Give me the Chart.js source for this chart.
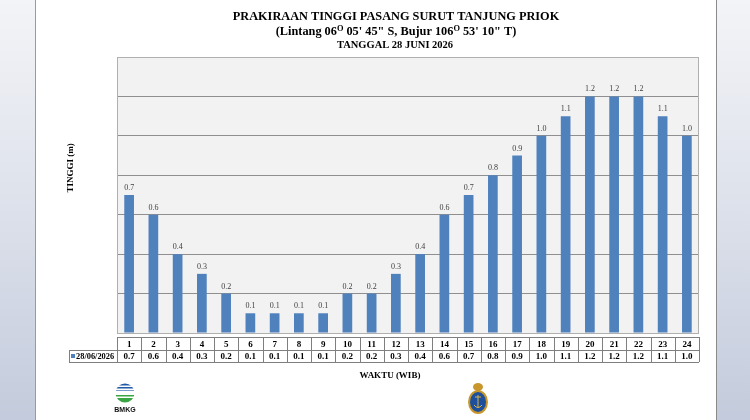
<!DOCTYPE html>
<html>
<head>
<meta charset="utf-8">
<script src="https://cdn.jsdelivr.net/npm/chart.js@4.4.1/dist/chart.umd.min.js"></script>
<style>
  html, body { margin: 0; padding: 0; }
  body {
    width: 750px; height: 420px; overflow: hidden; position: relative;
    background: linear-gradient(to bottom, #f3f4f7 0%, #dfe3ec 45%, #c3cbdc 100%);
  }
  #page {
    position: absolute; left: 35px; top: 0; width: 680px; height: 420px;
    background: #fff; border-left: 1px solid #9a9a9a; border-right: 1px solid #8a8a8a;
  }
  #wrap { position: absolute; left: 0; top: 0; width: 750px; height: 420px; }
</style>
</head>
<body>
<div id="page"></div>
<div id="wrap"><canvas id="tide" width="750" height="420"></canvas></div>
<script>
const hours = ['1','2','3','4','5','6','7','8','9','10','11','12','13','14','15','16','17','18','19','20','21','22','23','24'];
const heights = [0.7, 0.6, 0.4, 0.3, 0.2, 0.1, 0.1, 0.1, 0.1, 0.2, 0.2, 0.3, 0.4, 0.6, 0.7, 0.8, 0.9, 1.0, 1.1, 1.2, 1.2, 1.2, 1.1, 1.0];
const seriesLabel = '28/06/2026';
const yMin = 0, yMax = 1.4, yStep = 0.2;

const titleLine1 = 'PRAKIRAAN TINGGI PASANG SURUT TANJUNG PRIOK';
// second line has superscript "O" as degree marks
const titleLine2 = [['(Lintang 06', 0], ['O', 1], [' 05\' 45" S, Bujur 106', 0], ['O', 1], [' 53\' 10" T)', 0]];
const titleLine3 = 'TANGGAL 28 JUNI 2026';
const yTitle = 'TINGGI (m)';
const xTitle = 'WAKTU (WIB)';

const serif = '"Liberation Serif", "Times New Roman", serif';
const barBlue = '#4f81bd';

function drawRuns(ctx, runs, cx, y, size) {
  let total = 0;
  runs.forEach(r => {
    ctx.font = 'bold ' + (r[1] ? size * 0.68 : size) + 'px ' + serif;
    total += ctx.measureText(r[0]).width;
  });
  let x = cx - total / 2;
  ctx.textAlign = 'left';
  runs.forEach(r => {
    ctx.font = 'bold ' + (r[1] ? size * 0.68 : size) + 'px ' + serif;
    ctx.fillText(r[0], x, r[1] ? y - size * 0.3 : y);
    x += ctx.measureText(r[0]).width;
  });
}

const sheet = {
  id: 'sheet',
  beforeDraw(chart) {
    const { ctx, chartArea: a } = chart;
    ctx.save();
    ctx.fillStyle = '#f2f2f2';
    ctx.fillRect(a.left, a.top, a.right - a.left, a.bottom - a.top);
    ctx.restore();
  },
  afterDatasetsDraw(chart) {
    const { ctx } = chart;
    const meta = chart.getDatasetMeta(0);
    ctx.save();
    ctx.fillStyle = '#404040';
    ctx.font = '8px ' + serif;
    ctx.textAlign = 'center';
    ctx.textBaseline = 'alphabetic';
    meta.data.forEach((bar, i) => {
      ctx.fillText(heights[i].toFixed(1), bar.x, bar.y - 5);
    });
    ctx.restore();
  },
  afterDraw(chart) {
    const { ctx, chartArea: a } = chart;
    const xs = chart.scales.x;
    ctx.save();
    // plot frame
    ctx.strokeStyle = '#b0b0b0';
    ctx.lineWidth = 1;
    ctx.strokeRect(a.left + 0.5, a.top + 0.5, a.right - a.left - 1, a.bottom - a.top);

    // titles
    ctx.fillStyle = '#000';
    ctx.textAlign = 'center';
    ctx.textBaseline = 'alphabetic';
    ctx.font = 'bold 12.3px ' + serif;
    ctx.fillText(titleLine1, 396, 20);
    drawRuns(ctx, titleLine2, 396, 35, 12.3);
    ctx.textAlign = 'center';
    ctx.font = 'bold 10.5px ' + serif;
    ctx.fillText(titleLine3, 395, 48);

    // axis titles
    ctx.font = 'bold 9px ' + serif;
    ctx.fillText(xTitle, 390, 378);
    ctx.save();
    ctx.translate(73, 168);
    ctx.rotate(-Math.PI / 2);
    ctx.fillText(yTitle, 0, 0);
    ctx.restore();

    // data table
    const colW = (a.right - a.left) / hours.length;
    const t0 = 337, t1 = 350, t2 = 362, legL = 69;
    ctx.strokeStyle = '#7f7f7f';
    ctx.lineWidth = 1;
    ctx.beginPath();
    ctx.moveTo(a.left, t0 + 0.5); ctx.lineTo(a.right, t0 + 0.5);
    ctx.moveTo(legL, t1 + 0.5); ctx.lineTo(a.right, t1 + 0.5);
    ctx.moveTo(legL, t2 + 0.5); ctx.lineTo(a.right, t2 + 0.5);
    ctx.moveTo(legL + 0.5, t1); ctx.lineTo(legL + 0.5, t2);
    for (let i = 0; i <= hours.length; i++) {
      const px = Math.round(a.left + i * colW) + 0.5;
      ctx.moveTo(px, t0); ctx.lineTo(px, t2);
    }
    ctx.stroke();

    ctx.fillStyle = '#000';
    ctx.font = 'bold 9px ' + serif;
    ctx.textBaseline = 'middle';
    hours.forEach((h, i) => {
      const cx = xs.getPixelForValue(i);
      ctx.fillText(h, cx, (t0 + t1) / 2 + 1);
      ctx.fillText(heights[i].toFixed(1), cx, (t1 + t2) / 2 + 1);
    });
    ctx.fillStyle = barBlue;
    ctx.fillRect(legL + 2, t1 + 4, 4, 4);
    ctx.fillStyle = '#000';
    ctx.textAlign = 'left';
    ctx.font = 'bold 8.4px ' + serif;
    ctx.fillText(seriesLabel, legL + 7, (t1 + t2) / 2 + 1);

    // BMKG logo
    ctx.save();
    ctx.beginPath();
    ctx.arc(125, 393, 9.5, 0, Math.PI * 2);
    ctx.clip();
    ctx.fillStyle = '#fff';
    ctx.fillRect(114, 383, 22, 20);
    ctx.fillStyle = '#1f5aa8';
    ctx.fillRect(114, 383, 22, 2.5);
    ctx.fillRect(114, 387, 22, 1.5);
    ctx.fillStyle = '#7a9cc8';
    ctx.fillRect(114, 390, 22, 1);
    ctx.fillStyle = '#3aa543';
    ctx.fillRect(114, 395, 22, 1.5);
    ctx.fillRect(114, 398, 22, 5);
    ctx.restore();
    ctx.fillStyle = '#111';
    ctx.font = 'bold 7px "Liberation Sans", Arial, sans-serif';
    ctx.textAlign = 'center';
    ctx.textBaseline = 'alphabetic';
    ctx.fillText('BMKG', 125, 412);

    // emblem
    ctx.fillStyle = '#c8962a';
    ctx.beginPath();
    ctx.ellipse(478, 387, 5, 4, 0, 0, Math.PI * 2);
    ctx.fill();
    ctx.beginPath();
    ctx.ellipse(478, 402, 10, 12, 0, 0, Math.PI * 2);
    ctx.fill();
    ctx.fillStyle = '#1d4f9a';
    ctx.beginPath();
    ctx.ellipse(478, 402, 8, 10, 0, 0, Math.PI * 2);
    ctx.fill();
    ctx.strokeStyle = '#d8b24a';
    ctx.lineWidth = 1;
    ctx.beginPath();
    ctx.moveTo(478, 395); ctx.lineTo(478, 408);
    ctx.moveTo(475, 397); ctx.lineTo(481, 397);
    ctx.moveTo(474, 405); ctx.quadraticCurveTo(478, 410, 482, 405);
    ctx.stroke();
    ctx.restore();
  }
};

new Chart(document.getElementById('tide'), {
  type: 'bar',
  data: {
    labels: hours,
    datasets: [{
      label: seriesLabel,
      data: heights,
      backgroundColor: barBlue,
      borderWidth: 0,
      categoryPercentage: 1,
      barPercentage: 0.4
    }]
  },
  options: {
    responsive: false,
    animation: false,
    devicePixelRatio: 1,
    layout: { padding: { left: 117, right: 51, top: 57, bottom: 87 } },
    plugins: {
      legend: { display: false },
      tooltip: { enabled: false },
      title: { display: false }
    },
    scales: {
      x: { display: false },
      y: {
        min: yMin,
        max: yMax,
        ticks: { display: false, stepSize: yStep },
        grid: { color: '#8f8f8f', lineWidth: 1, drawTicks: false },
        border: { display: false },
        afterFit(scale) { scale.width = 0; }
      }
    }
  },
  plugins: [sheet]
});
</script>
</body>
</html>
